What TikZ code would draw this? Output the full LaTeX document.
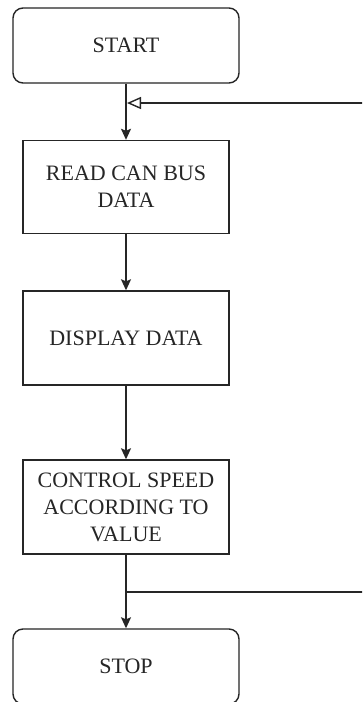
\documentclass[tikz,border=0pt]{standalone}
\usepackage{fontspec}
\setmainfont{Liberation Serif}
\usetikzlibrary{arrows.meta}
\begin{document}
\begin{tikzpicture}[x=1pt,y=1pt,
  base/.style={draw=black!85, line width=1.4pt, align=center, inner sep=0pt,
    font=\fontsize{22}{27}\selectfont, text=black!85},
  term/.style={base, rounded corners=10pt, minimum width=226pt, minimum height=75pt},
  procbox/.style={base, minimum width=206pt, minimum height=94pt},
  flow/.style={draw=black!85, line width=1.4pt, -{Stealth[length=11pt,width=10pt,inset=2pt]}},
  fb/.style={draw=black!85, line width=1.4pt}
]
\useasboundingbox (0,0) rectangle (362,-702);
\clip (0,0) rectangle (362,-702);
\fill[white] (0,0) rectangle (362,-702);
\node[term] (start) at (126,-45.5) {START};
\node[procbox, minimum height=93pt] (read) at (126,-187) {READ CAN BUS\\DATA};
\node[procbox] (disp) at (126,-338) {DISPLAY DATA};
\node[procbox] (ctrl) at (126,-507) {CONTROL SPEED\\ACCORDING TO\\VALUE};
\node[term] (stop) at (126,-666.5) {STOP};
\draw[flow] (start) -- (read);
\draw[flow] (read) -- (disp);
\draw[flow] (disp) -- (ctrl);
\draw[flow] (ctrl) -- (stop);
\coordinate (j1) at (126,-592);
\coordinate (j2) at (127,-103);
\coordinate (r1) at (385,-592);
\coordinate (r2) at (385,-103);
\draw[fb, -{Triangle[open,length=14pt,width=12pt]}] (j1) -- (r1) -- (r2) -- (j2);
\end{tikzpicture}
\end{document}
